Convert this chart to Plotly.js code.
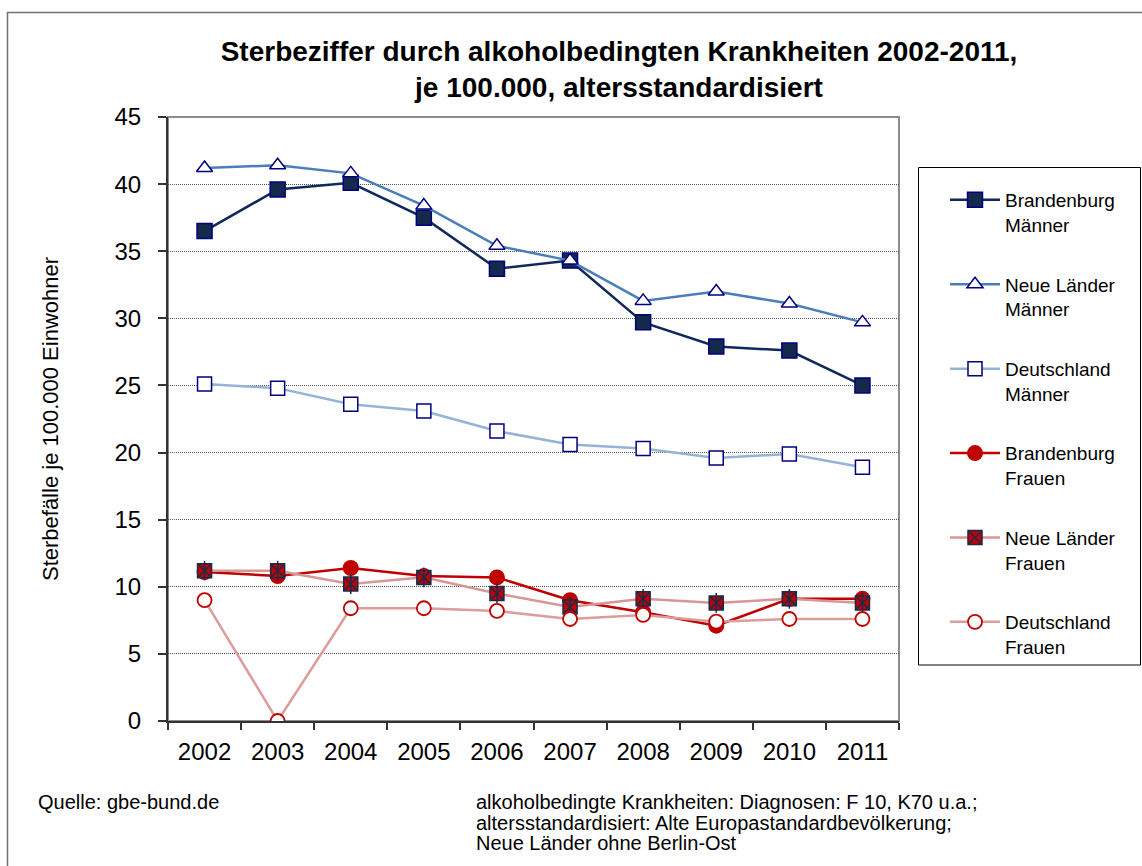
<!DOCTYPE html>
<html><head><meta charset="utf-8">
<script src="https://cdn.plot.ly/plotly-3.0.1.min.js"></script>
<style>html,body{margin:0;padding:0;background:#fff}#chart{width:1142px;height:866px}</style>
</head><body><div id="chart"></div>
<script>
const years = ['2002','2003','2004','2005','2006','2007','2008','2009','2010','2011'];
const brandenburgMaenner = [36.5, 39.6, 40.1, 37.5, 33.7, 34.3, 29.7, 27.9, 27.6, 25.0];
const neueLaenderMaenner = [41.2, 41.4, 40.8, 38.4, 35.4, 34.3, 31.3, 32.0, 31.1, 29.7];
const deutschlandMaenner = [25.1, 24.8, 23.6, 23.1, 21.6, 20.6, 20.3, 19.6, 19.9, 18.9];
const brandenburgFrauen = [11.1, 10.8, 11.4, 10.8, 10.7, 9.0, 8.1, 7.1, 9.1, 9.1];
const neueLaenderFrauen = [11.2, 11.2, 10.2, 10.7, 9.5, 8.5, 9.1, 8.8, 9.1, 8.8];
const deutschlandFrauen = [9.0, 0.0, 8.4, 8.4, 8.2, 7.6, 7.9, 7.4, 7.6, 7.6];
const seriesNames = ['Brandenburg<br>Männer','Neue Länder<br>Männer','Deutschland<br>Männer','Brandenburg<br>Frauen','Neue Länder<br>Frauen','Deutschland<br>Frauen'];
const titleText = '<b>Sterbeziffer durch alkoholbedingten Krankheiten 2002-2011,<br>je 100.000, altersstandardisiert</b>';
const yTitle = 'Sterbefälle je 100.000 Einwohner';
const sourceText = 'Quelle: gbe-bund.de';
const noteLines = ['alkoholbedingte Krankheiten: Diagnosen: F 10, K70 u.a.;','altersstandardisiert: Alte Europastandardbevölkerung;','Neue Länder ohne Berlin-Ost'];

const FONT = 'Liberation Sans, Arial, sans-serif';
const NAVY = '#000080';

const traces = [
  {x: years, y: brandenburgMaenner, name: seriesNames[0], legendgroup: 'g1', mode: 'lines+markers',
   line: {color: '#10295a', width: 2.5},
   marker: {symbol: 'square', size: 15, color: '#15294a', line: {color: NAVY, width: 1.5}}},
  {x: years, y: neueLaenderMaenner, name: seriesNames[1], legendgroup: 'g2', mode: 'lines+markers',
   line: {color: '#4a7ebb', width: 2.5},
   marker: {symbol: 'triangle-up', size: 14, color: '#ffffff', line: {color: NAVY, width: 1.5}}},
  {x: years, y: deutschlandMaenner, name: seriesNames[2], legendgroup: 'g3', mode: 'lines+markers',
   line: {color: '#95b3d7', width: 2.5},
   marker: {symbol: 'square', size: 14, color: '#ffffff', line: {color: NAVY, width: 1.5}}},
  {x: years, y: brandenburgFrauen, name: seriesNames[3], legendgroup: 'g4', mode: 'lines+markers',
   line: {color: '#c00000', width: 2.5},
   marker: {symbol: 'circle', size: 16, color: '#c00000', line: {color: '#c00000', width: 0}}},
  {x: years, y: neueLaenderFrauen, name: seriesNames[4], legendgroup: 'g5', mode: 'lines+markers',
   line: {color: '#d99694', width: 2.5},
   marker: {symbol: 'square-x', size: 14, color: '#c00000', line: {color: '#1b2a4a', width: 1.5}}},
  {x: years, y: neueLaenderFrauen, name: seriesNames[4], legendgroup: 'g5', mode: 'markers', showlegend: false, hoverinfo: 'skip',
   marker: {symbol: 'line-ns-open', size: 14, color: '#1b2a4a', line: {color: '#1b2a4a', width: 1.5}}},
  {x: years, y: deutschlandFrauen, name: seriesNames[5], legendgroup: 'g6', mode: 'lines+markers',
   line: {color: '#dd9c9b', width: 2.5},
   marker: {symbol: 'circle', size: 14, color: '#ffffff', line: {color: '#c00000', width: 1.8}}}
];

// plot area: x 168..899, y 117..721
const L = 168, T = 117, W = 731, H = 604;
const px = v => (v - L) / W;
const py = v => (T + H - v) / H;

const layout = {
  width: 1142, height: 866,
  margin: {l: L, r: 1142 - L - W, t: T, b: 866 - T - H},
  paper_bgcolor: '#ffffff', plot_bgcolor: '#ffffff',
  font: {family: FONT, color: '#000000'},
  title: {text: titleText, font: {family: FONT, size: 28, color: '#000'}, xref: 'container', yref: 'container',
          x: 619 / 1142, y: 1 - 61 / 866, xanchor: 'center', yanchor: 'middle'},
  xaxis: {type: 'category', range: [-0.5, 9.5], showgrid: false, zeroline: false,
          showline: true, linecolor: '#333333', linewidth: 2,
          ticks: 'outside', tickson: 'boundaries', ticklen: 7, tickcolor: '#333333', tickwidth: 1.5,
          tickfont: {family: FONT, size: 24, color: '#000'}, ticklabelstandoff: 8, fixedrange: true},
  yaxis: {range: [0, 45], dtick: 5, tick0: 0, showgrid: true, gridcolor: '#555555', gridwidth: 1, griddash: '1px,1px',
          zeroline: false, showline: true, linecolor: '#333333', linewidth: 2,
          ticks: 'outside', ticklen: 8, tickcolor: '#333333', tickwidth: 1.5,
          tickfont: {family: FONT, size: 24, color: '#000'}, ticklabelstandoff: 12,
          title: {text: yTitle, font: {family: FONT, size: 22, color: '#000'}, standoff: 50}, fixedrange: true},
  showlegend: true,
  legend: {x: px(945), y: py(181), xanchor: 'left', yanchor: 'top', bgcolor: 'rgba(0,0,0,0)', borderwidth: 0,
           font: {family: FONT, size: 19, color: '#000'}, itemwidth: 50, tracegroupgap: 32, valign: 'top',
           traceorder: 'grouped'},
  shapes: [
    {type: 'rect', xref: 'paper', yref: 'paper', x0: px(7.5), x1: px(1160), y0: py(890), y1: py(12.5),
     line: {color: '#707070', width: 1.5}, fillcolor: 'rgba(0,0,0,0)', layer: 'below'},
    {type: 'rect', xref: 'paper', yref: 'paper', x0: 0, x1: 1, y0: 0, y1: 1,
     line: {color: '#8c8c8c', width: 2}, fillcolor: 'rgba(0,0,0,0)', layer: 'below'},
    {type: 'rect', xref: 'paper', yref: 'paper', x0: px(918.5), x1: px(1140.5), y0: py(665), y1: py(167.5),
     line: {color: '#000000', width: 1}, fillcolor: 'rgba(0,0,0,0)', layer: 'below'}
  ],
  annotations: [
    {text: sourceText, xref: 'paper', yref: 'paper', x: px(36), y: py(802), xanchor: 'left', yanchor: 'middle',
     showarrow: false, font: {family: FONT, size: 20, color: '#000'}},
    ...noteLines.map((t, i) => ({text: t, xref: 'paper', yref: 'paper', x: px(474), y: py(802 + i * 20.5),
     xanchor: 'left', yanchor: 'middle', showarrow: false, font: {family: FONT, size: 20, color: '#000'}}))
  ],
  hovermode: 'closest'
};

Plotly.newPlot('chart', traces, layout, {displayModeBar: false, responsive: false});
</script>
</body></html>
